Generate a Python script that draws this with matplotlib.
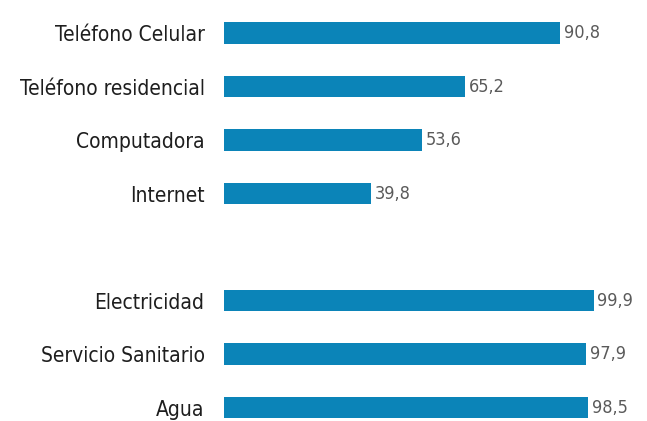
import matplotlib.pyplot as plt

# acceso a servicios y tecnologia en el hogar (%)
tic_labels = ["Teléfono Celular", "Teléfono residencial", "Computadora", "Internet"]
tic_values = [90.8, 65.2, 53.6, 39.8]
svc_labels = ["Electricidad", "Servicio Sanitario", "Agua"]
svc_values = [99.9, 97.9, 98.5]

bar_color = "#0b84b8"
plt.rcParams['font.family'] = ['DejaVu Sans']
plt.rcParams['font.stretch'] = 'condensed'

labels = tic_labels + svc_labels
values = tic_values + svc_values
gap = 2.0
pos = list(range(len(tic_labels))) + [len(tic_labels) - 1 + gap + i for i in range(len(svc_labels))]

fig = plt.figure(figsize=(6.47, 4.21), dpi=100)
ax = fig.add_axes([224 / 647, 0, 370 / 647, 1])

ax.barh(pos, values, height=0.40, color=bar_color)
for y, v in zip(pos, values):
    ax.text(v + 1.0, y, f"{v:.1f}".replace(".", ","), va="center", ha="left",
            fontsize=13, color="#5a5a5a")

ax.set_yticks(pos)
ax.set_yticklabels(labels, fontsize=15, color="#1e1e1e")
ax.tick_params(axis="y", length=0, pad=14)
ax.set_xticks([])
ax.set_xlim(0, 100)
ax.set_ylim(7.25, -0.62)
for s in ax.spines.values():
    s.set_visible(False)

fig.savefig("out.png", dpi=100)
